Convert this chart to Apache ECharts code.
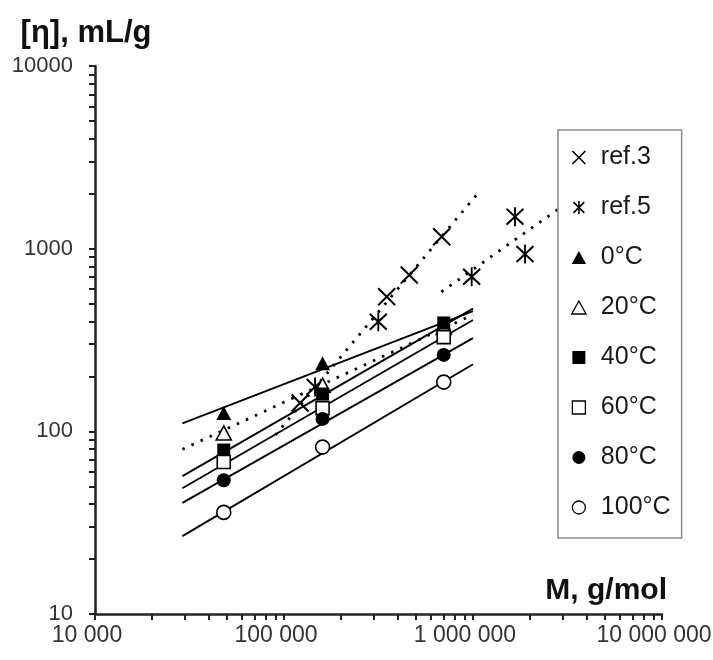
<!DOCTYPE html>
<html>
<head>
<meta charset="utf-8">
<script src="https://cdn.jsdelivr.net/npm/echarts@6/dist/echarts.min.js"></script>
<style>
  html, body { margin: 0; padding: 0; background: #fff; }
  #chart { width: 713px; height: 660px; }
</style>
</head>
<body>
<div id="chart"></div>
<script>
// Molar mass (g/mol) of the three samples measured at every temperature
const massT = [48000, 160000, 700000];
// Intrinsic viscosity [η] (mL/g) of those samples
const eta0 = [126, 236, 390];
const eta20 = [98, 179, 370];
const eta40 = [79, 160, 392];
const eta60 = [68, 134, 328];
const eta80 = [54, 117, 262];
const eta100 = [36, 82, 186];

// Literature points
const ref3Mass = [121600, 349500, 460000, 683000];
const ref3Eta = [143, 545, 717, 1161];
const ref5Mass = [146000, 315500, 984000, 1668000, 1884000];
const ref5Eta = [175, 398, 702, 1496, 934];

// Mark–Houwink fit lines (end points)
const fitMass = [29000, 1000000];
const fit0 = [110.6, 455];
const fit20 = [79.7, 435];
const fit40 = [56.9, 470];
const fit60 = [48.8, 407];
const fit80 = [40.6, 324];
const fit100 = [26.7, 233];
const ref3FitMass = [90000, 1100000];
const ref3Fit = [95.5, 2100];
const ref5FitMass = [680000, 3000000];
const ref5Fit = [580, 1720];

// Axis ticks and labels
const xMajor = [10000, 100000, 1000000, 10000000];
const xLabels = ['10 000', '100 000', '1 000 000', '10 000 000'];
const yMajor = [10, 100, 1000, 10000];
const yLabels = ['10', '100', '1000', '10000'];
const steps = [1, 2, 3, 4, 5, 6, 7, 8, 9];

function decadeTicks(majors) {
  const out = [];
  for (let i = 0; i < majors.length - 1; i++) {
    steps.forEach(s => out.push(majors[i] * s));
  }
  out.push(majors[majors.length - 1]);
  return out;
}

const pairs = (xs, ys) => xs.map((x, i) => [x, ys[i]]);

const CROSS = 'path://M0,0L10,10M10,0L0,10';
const STAR = 'path://M0,1L10,11M10,1L0,11M5,0L5,12';
const TRI = 'path://M5,0L10,9L0,9Z';
const SQR = 'path://M0,0L10,0L10,10L0,10Z';
const CIRC = 'path://M0,5A5,5,0,1,0,10,5A5,5,0,1,0,0,5Z';

const FONT = '"Liberation Sans", Arial, sans-serif';
const INK = '#000';

const strokeOnly = { color: 'transparent', borderColor: INK, borderWidth: 2, opacity: 1 };
const filled = { color: INK, borderColor: INK, borderWidth: 0, opacity: 1 };
const hollow = { color: '#fff', borderColor: INK, borderWidth: 1.6, opacity: 1 };

function fitLine(xs, ys, dotted) {
  return {
    type: 'line',
    data: pairs(xs, ys),
    showSymbol: false,
    symbol: 'none',
    silent: true,
    z: 1,
    lineStyle: dotted
      ? { color: INK, width: 2.8, type: [2.5, 7.5], opacity: 1 }
      : { color: INK, width: 1.9, type: 'solid', opacity: 1 }
  };
}

function points(name, xs, ys, symbol, size, style) {
  return {
    type: 'scatter',
    name: name,
    data: pairs(xs, ys),
    symbol: symbol,
    symbolSize: size,
    itemStyle: style,
    emphasis: { disabled: true },
    z: 3
  };
}

const chart = echarts.init(document.getElementById('chart'), null, { renderer: 'canvas' });

chart.setOption({
  animation: false,
  backgroundColor: '#fff',
  grid: { left: 95, right: 51, top: 66, bottom: 46, containLabel: false, outerBoundsMode: 'none' },
  xAxis: {
    type: 'log',
    logBase: 10,
    min: 10000,
    max: 10000000,
    name: 'M, g/mol',
    nameLocation: 'end',
    nameGap: 5,
    nameTextStyle: {
      fontFamily: FONT, fontSize: 30, fontWeight: 'bold', color: '#111',
      align: 'right', verticalAlign: 'bottom', padding: [0, 0, 8, 0]
    },
    axisLine: { show: true, lineStyle: { color: '#222', width: 2.5 } },
    axisTick: {
      show: true, inside: false, length: 6,
      customValues: decadeTicks(xMajor),
      lineStyle: { color: '#222', width: 2 }
    },
    minorTick: { show: false },
    splitLine: { show: false },
    axisLabel: {
      customValues: xMajor,
      margin: 10,
      fontFamily: FONT, fontSize: 23, color: '#333',
      padding: [0, 16, 0, 0],
      formatter: v => xLabels[xMajor.indexOf(v)] ?? ''
    }
  },
  yAxis: {
    type: 'log',
    logBase: 10,
    min: 10,
    max: 10000,
    name: '[η], mL/g',
    nameLocation: 'end',
    nameGap: 17,
    nameTextStyle: {
      fontFamily: FONT, fontSize: 31, fontWeight: 'bold', color: '#111',
      align: 'center', verticalAlign: 'bottom', padding: [0, 18, 0, 0]
    },
    axisLine: { show: true, lineStyle: { color: '#222', width: 2.5 } },
    axisTick: {
      show: true, inside: false, length: 6,
      customValues: decadeTicks(yMajor),
      lineStyle: { color: '#222', width: 2 }
    },
    minorTick: { show: false },
    splitLine: { show: false },
    axisLabel: {
      customValues: yMajor,
      margin: 22,
      fontFamily: FONT, fontSize: 22, color: '#333',
      formatter: v => yLabels[yMajor.indexOf(v)] ?? ''
    }
  },
  legend: {
    orient: 'vertical',
    left: 558,
    top: 130,
    padding: [15, 11, 18, 13],
    itemGap: 25,
    itemWidth: 34,
    itemHeight: 13,
    backgroundColor: '#fff',
    borderColor: '#8a8a8a',
    borderWidth: 1.5,
    borderRadius: 0,
    selectedMode: false,
    textStyle: { fontFamily: FONT, fontSize: 25, lineHeight: 25, color: '#1a1a1a' },
    data: [
      { name: 'ref.3', icon: CROSS, itemStyle: { color: 'transparent', borderColor: INK, borderWidth: 1.6, opacity: 1 } },
      { name: 'ref.5', icon: STAR, itemStyle: { color: 'transparent', borderColor: INK, borderWidth: 1.6, opacity: 1 } },
      { name: '0°C', icon: TRI, itemStyle: { color: INK, borderWidth: 0, opacity: 1 } },
      { name: '20°C', icon: TRI, itemStyle: { color: '#fff', borderColor: INK, borderWidth: 1.3, opacity: 1 } },
      { name: '40°C', icon: SQR, itemStyle: { color: INK, borderWidth: 0, opacity: 1 } },
      { name: '60°C', icon: SQR, itemStyle: { color: '#fff', borderColor: INK, borderWidth: 1.3, opacity: 1 } },
      { name: '80°C', icon: CIRC, itemStyle: { color: INK, borderWidth: 0, opacity: 1 } },
      { name: '100°C', icon: CIRC, itemStyle: { color: '#fff', borderColor: INK, borderWidth: 1.3, opacity: 1 } }
    ]
  },
  series: [
    fitLine(fitMass, fit0, false),
    fitLine(fitMass, fit20, true),
    fitLine(fitMass, fit40, false),
    fitLine(fitMass, fit60, false),
    fitLine(fitMass, fit80, false),
    fitLine(fitMass, fit100, false),
    fitLine(ref3FitMass, ref3Fit, true),
    fitLine(ref5FitMass, ref5Fit, true),
    points('ref.3', ref3Mass, ref3Eta, CROSS, 17, strokeOnly),
    points('ref.5', ref5Mass, ref5Eta, STAR, [17, 19], strokeOnly),
    points('0°C', massT, eta0, TRI, [15, 14], filled),
    points('20°C', massT, eta20, TRI, [15, 14], hollow),
    points('40°C', massT, eta40, SQR, 13, filled),
    points('60°C', massT, eta60, SQR, 13, hollow),
    points('80°C', massT, eta80, CIRC, 14, filled),
    points('100°C', massT, eta100, CIRC, 14, hollow)
  ]
});
</script>
</body>
</html>
